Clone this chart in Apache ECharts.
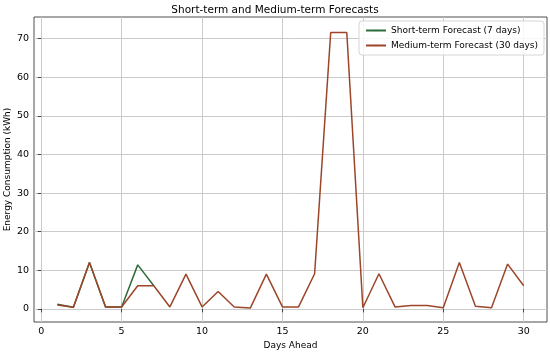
<!DOCTYPE html>
<html><head><meta charset="utf-8">
<script src="https://cdn.jsdelivr.net/npm/echarts@6/dist/echarts.min.js"></script>
<style>html,body{margin:0;padding:0;background:#fff}#c{width:550px;height:354px}</style>
</head><body><div id="c"></div>
<script>
const shortDays = [1,2,3,4,5,6,7];
const shortValues = [1.2,0.4,12.0,0.5,0.5,11.4,6.0];
const mediumDays = [1,2,3,4,5,6,7,8,9,10,11,12,13,14,15,16,17,18,19,20,21,22,23,24,25,26,27,28,29,30];
const mediumValues = [1.0,0.4,12.0,0.5,0.5,6.0,6.0,0.5,9.0,0.5,4.5,0.5,0.2,9.0,0.5,0.5,9.1,71.6,71.6,0.3,9.1,0.5,0.9,0.9,0.3,12.0,0.7,0.3,11.6,6.0];
const xTicks = [0,5,10,15,20,25,30];
const yTicks = [0,10,20,30,40,50,60,70];

const font = 'DejaVu Sans';
const chart = echarts.init(document.getElementById('c'));
const pair = (xs, ys) => xs.map((x,i)=>[x, ys[i]]);
chart.setOption({
  animation: false,
  backgroundColor: '#fff',
  title: {text: 'Short-term and Medium-term Forecasts', left: 'center', top: 0,
    textStyle: {fontFamily: font, fontSize: 10.5, fontWeight: 'normal', color: '#000'}},
  grid: {left: 34, right: 3, top: 17, bottom: 32, show: true, borderColor: '#222', borderWidth: 0.8,
    containLabel: false, outerBoundsMode: 'none'},
  legend: {orient: 'vertical', right: 6, top: 21, itemWidth: 20, itemHeight: 2, itemGap: 6,
    backgroundColor: 'rgba(255,255,255,0.85)', borderColor: '#ccc', borderWidth: 0.8, borderRadius: 3,
    padding: [5,6,5,6],
    textStyle: {fontFamily: font, fontSize: 9, color: '#000'},
    data: ['Short-term Forecast (7 days)', 'Medium-term Forecast (30 days)']},
  xAxis: {type: 'value', min: -0.45, max: 31.45,
    name: 'Days Ahead', nameLocation: 'middle', nameGap: 19, nameMoveOverlap: false,
    nameTextStyle: {fontFamily: font, fontSize: 9, color: '#000'},
    axisLine: {show: false},
    axisTick: {show: true, length: 3.5, inside: false, customValues: xTicks, lineStyle: {color: '#222', width: 0.8}},
    axisLabel: {customValues: xTicks, fontFamily: font, fontSize: 9.5, color: '#000', margin: 5},
    splitLine: {show: true, customValues: xTicks, lineStyle: {color: '#cbcbcb', width: 1}}},
  yAxis: {type: 'value', min: -3.4, max: 75.6,
    name: 'Energy Consumption (kWh)', nameLocation: 'middle', nameGap: 22, nameRotate: 90, nameMoveOverlap: false,
    nameTextStyle: {fontFamily: font, fontSize: 9, color: '#000'},
    axisLine: {show: false},
    axisTick: {show: true, length: 3.5, customValues: yTicks, lineStyle: {color: '#222', width: 0.8}},
    axisLabel: {customValues: yTicks, fontFamily: font, fontSize: 9.5, color: '#000', margin: 5},
    splitLine: {show: true, customValues: yTicks, lineStyle: {color: '#cbcbcb', width: 1}}},
  series: [
    {name: 'Short-term Forecast (7 days)', type: 'line', data: pair(shortDays, shortValues),
      showSymbol: false, symbol: 'none', color: '#2e6b3a', lineStyle: {width: 1.5, color: '#2e6b3a'}, z: 2},
    {name: 'Medium-term Forecast (30 days)', type: 'line', data: pair(mediumDays, mediumValues),
      showSymbol: false, symbol: 'none', color: '#9c4529', lineStyle: {width: 1.5, color: '#9c4529'}, z: 3}
  ]
});
</script></body></html>
